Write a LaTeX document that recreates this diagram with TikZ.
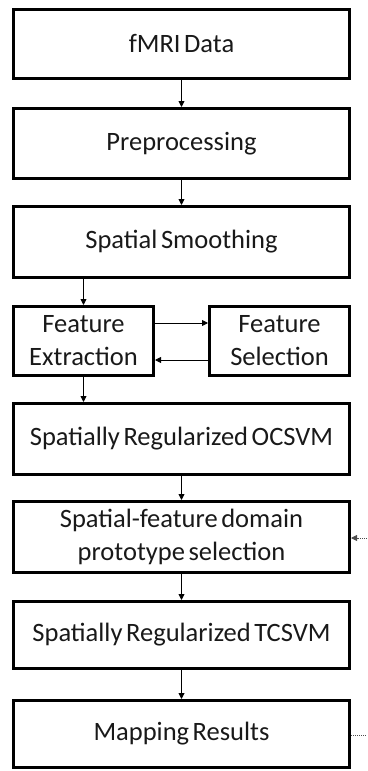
\documentclass[tikz,border=0pt]{standalone}
\usepackage{fontspec}
\setmainfont[WordSpace=0.6]{Carlito}
\usetikzlibrary{arrows.meta}
\begin{document}
\begin{tikzpicture}[x=1pt,y=-1pt,
  stage/.style={draw=black, line width=3pt, rectangle, inner sep=0pt,
    minimum width=336pt, minimum height=69pt, align=center,
    text=black!90, font=\fontsize{26.5}{33}\selectfont},
  halfstage/.style={stage, minimum width=140pt},
  flow/.style={line width=0.9pt, -{Triangle[length=6pt,width=6pt]}},
  extin/.style={line width=0.8pt, dash pattern=on 1pt off 1pt, black!70,
    -{Triangle[length=6pt,width=6pt]}},
  extout/.style={line width=0.8pt, dash pattern=on 1pt off 1pt, black!70}]
  \useasboundingbox (0,0) rectangle (367,771);

  % processing stages
  \node[stage] (fmri) at (181.5,44) {fMRI Data};
  \node[stage, minimum height=70pt] (pre) at (181.5,143.5) {Preprocessing};
  \node[stage, minimum height=71pt] (smooth) at (181.5,242) {Spatial Smoothing};
  \node[halfstage] (fext) at (83.5,341) {Feature\\Extraction};
  \node[halfstage] (fsel) at (279.5,341) {Feature\\Selection};
  \node[stage, minimum height=71pt] (ocsvm) at (181.5,439) {Spatially Regularized OCSVM};
  \node[stage, minimum height=71pt] (proto) at (181.5,537) {Spatial-feature domain\\prototype selection};
  \node[stage, minimum height=67pt] (tcsvm) at (181.5,635) {Spatially Regularized TCSVM};
  \node[stage, minimum height=67pt] (map) at (181.5,734) {Mapping Results};

  % external links on the right margin
  \coordinate (extsrc) at (367,538);
  \coordinate (extdst) at (367,735);

  % main flow
  \draw[flow] (fmri) -- (pre);
  \draw[flow] (pre) -- (smooth);
  \draw[flow] (fext.north |- smooth.south) -- (fext.north);
  \draw[flow] ([yshift=18pt]fext.east) -- ([yshift=18pt]fsel.west);
  \draw[flow] ([yshift=-19pt]fsel.west) -- ([yshift=-19pt]fext.east);
  \draw[flow] (fext.south) -- (fext.south |- ocsvm.north);
  \draw[flow] (ocsvm) -- (proto);
  \draw[flow] (proto) -- (tcsvm);
  \draw[flow] (tcsvm) -- (map);

  \draw[extin] (extsrc) -- (proto.east |- extsrc);
  \draw[extout] (map.east |- extdst) -- (extdst);
\end{tikzpicture}
\end{document}
